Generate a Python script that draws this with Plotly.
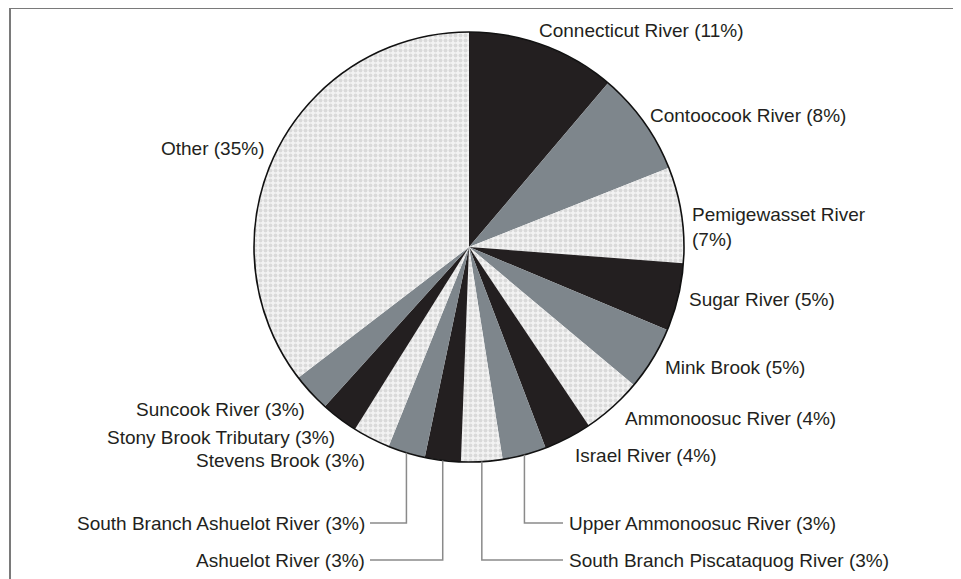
import math
import plotly.graph_objects as go

# ---- data ----
rivers = [
    "Connecticut River", "Contoocook River", "Pemigewasset River", "Sugar River",
    "Mink Brook", "Ammonoosuc River", "Israel River", "Upper Ammonoosuc River",
    "South Branch Piscataquog River", "Ashuelot River", "South Branch Ashuelot River",
    "Stevens Brook", "Stony Brook Tributary", "Suncook River", "Other",
]
shares = [11.2, 7.8, 7.2, 5.1, 4.8, 4.5, 3.6, 3.3, 3.1, 2.7, 2.8, 2.8, 2.8, 2.9, 35.4]
fill_kind = ["dark", "mid", "light", "dark", "mid", "light", "dark", "mid",
             "light", "dark", "mid", "light", "dark", "mid", "light"]

# ---- styling / layout ----
W, H = 961, 579
OFF = 8  # page offset of the plot div inside the browser window
CX, CY, R = 469, 247, 215
FONT = "Liberation Sans, Arial, sans-serif"
TXT = "#231f20"
COLORS = {"dark": "#231f20", "mid": "#7e868c", "light": "#ececec"}

# label placement (pixel anchor in window coords, side, leader?)
label_layout = {
    "Connecticut River": (537, 31, "left", False),
    "Contoocook River": (648, 115, "left", False),
    "Pemigewasset River": (690, 227, "left", False),
    "Sugar River": (687, 299, "left", False),
    "Mink Brook": (663, 367, "left", False),
    "Ammonoosuc River": (623, 418, "left", False),
    "Israel River": (573, 455, "left", False),
    "Upper Ammonoosuc River": (567, 523, "left", True),
    "South Branch Piscataquog River": (567, 560, "left", True),
    "Ashuelot River": (367, 560, "right", True),
    "South Branch Ashuelot River": (367, 523, "right", True),
    "Stevens Brook": (367, 460, "right", False),
    "Stony Brook Tributary": (337, 437, "right", False),
    "Suncook River": (307, 409, "right", False),
    "Other": (266, 148, "right", False),
}
wrap = {"Pemigewasset River": "Pemigewasset River<br>"}


def px(x):
    return (x - OFF) / W


def py(y):
    return 1 - (y - OFF) / H


total = sum(shares)
pattern_shapes = ["." if k == "light" else "" for k in fill_kind]

fig = go.Figure(go.Pie(
    labels=rivers,
    values=shares,
    sort=False,
    direction="clockwise",
    rotation=0,
    textinfo="none",
    hoverinfo="label+percent",
    marker=dict(
        colors=[COLORS[k] for k in fill_kind],
        line=dict(width=0),
        pattern=dict(shape=pattern_shapes, fgcolor="#c2c2c2", bgcolor="#f3f3f3",
                     size=5, solidity=0.5, fillmode="overlay"),
    ),
    domain=dict(x=[px(CX - R), px(CX + R)], y=[py(CY + R), py(CY - R)]),
    showlegend=False,
))

shapes = []
# outline of the pie
shapes.append(dict(type="circle", xref="paper", yref="paper",
                   x0=px(CX - R), x1=px(CX + R), y0=py(CY + R), y1=py(CY - R),
                   line=dict(color="#111111", width=1.6), layer="above"))
# frame
shapes.append(dict(type="rect", xref="paper", yref="paper",
                   x0=px(10), x1=px(957), y0=py(8), y1=-0.1,
                   line=dict(color="#7a7a7a", width=2)))

annotations = []
cum = 0.0
for name, v in zip(rivers, shares):
    pct = v / total * 100
    mid = (cum + v / 2) / total * 2 * math.pi
    cum += v
    lx, ly, side, leader = label_layout[name]
    text = wrap.get(name, name + " ") + f"({round(pct)}%)"
    annotations.append(dict(
        x=px(lx), y=py(ly), xref="paper", yref="paper", text=text,
        showarrow=False, xanchor="left" if side == "left" else "right",
        yanchor="middle", align="left" if side == "left" else "right",
        font=dict(family=FONT, size=19, color=TXT),
    ))
    if leader:
        sx = CX + R * math.sin(mid)
        sy = CY - R * math.cos(mid)
        ex = lx - 4 if side == "left" else lx + 3
        shapes.append(dict(type="path", xref="paper", yref="paper",
                           path=f"M {px(sx)} {py(sy)} L {px(sx)} {py(ly)} L {px(ex)} {py(ly)}",
                           line=dict(color="#8a8a8a", width=1.5)))

fig.update_layout(
    width=W, height=H,
    margin=dict(l=0, r=0, t=0, b=0),
    paper_bgcolor="white", plot_bgcolor="white",
    shapes=shapes, annotations=annotations,
    font=dict(family=FONT),
)
fig.write_html("out.html")
